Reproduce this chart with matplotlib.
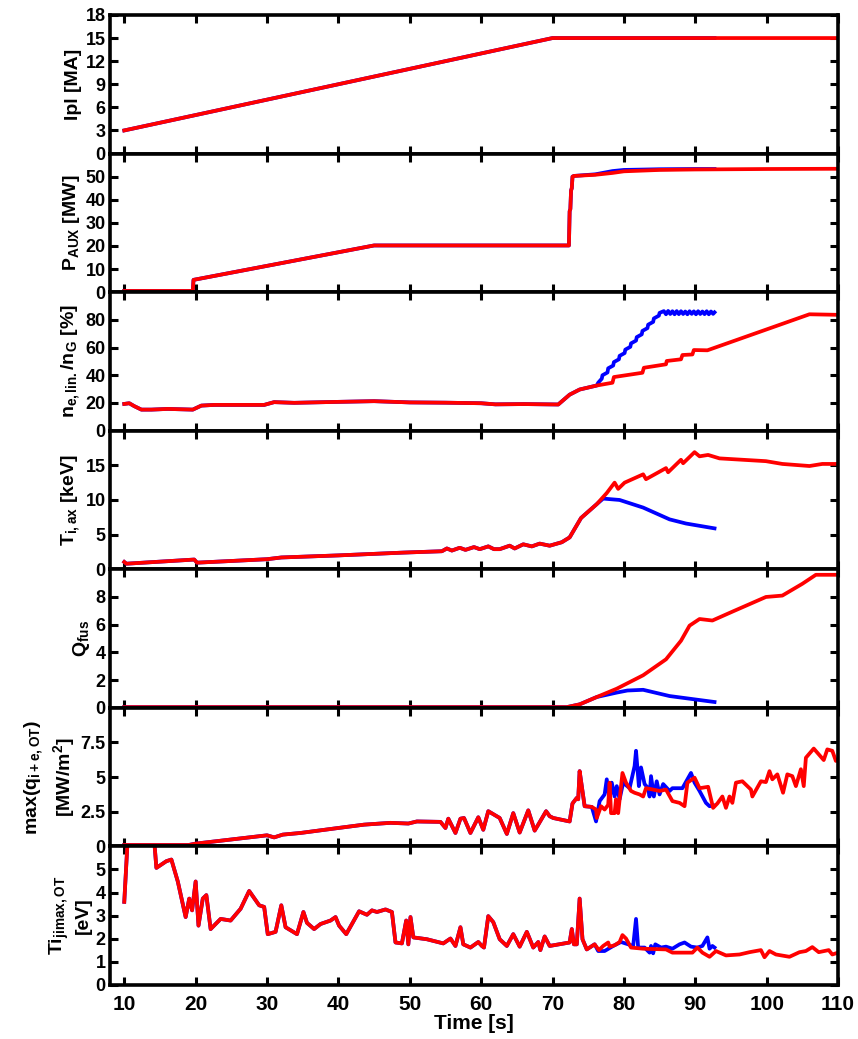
import numpy as np
import matplotlib
matplotlib.use("Agg")
import matplotlib.pyplot as plt

plt.rcParams["font.family"] = ["Liberation Sans", "DejaVu Sans"]
plt.rcParams["font.weight"] = "bold"
plt.rcParams["font.size"] = 13
plt.rcParams["mathtext.fontset"] = "custom"
plt.rcParams["mathtext.rm"] = "Liberation Sans:bold"
plt.rcParams["mathtext.it"] = "Liberation Sans:bold"
plt.rcParams["mathtext.bf"] = "Liberation Sans:bold"
plt.rcParams["mathtext.default"] = "rm"

# --- plasma current
ipl_t = [10, 70, 110]
ipl_red = [3, 15, 15]
ipl_blue_t = [10, 70, 92.7]
ipl_blue = [3, 15, 15]

# --- auxiliary heating
paux_t = [10, 19.6, 19.7, 45, 72.3, 72.4, 72.5, 72.6, 72.7, 72.8, 73, 76, 78.4, 80, 85, 90, 100, 110]
paux_red = [0.5, 0.5, 5.3, 20.2, 20.2, 35, 36, 44, 45, 50, 50.3, 50.8, 51.6, 52.3, 52.9, 53.1, 53.3, 53.4]
paux_blue_t = [76, 78.4, 80, 85, 90, 92.7]
paux_blue = [51.0, 52.4, 52.9, 53.2, 53.3, 53.3]

# --- Greenwald fraction
ne_t = [10, 10.7, 11.4, 12.4, 13.8, 16.1, 19.6, 20.8, 22.6, 29.6, 31, 33.8, 40, 45, 50, 55, 60, 62, 66,
        70.8, 72.4, 73.8, 76.2, 78.4, 78.6, 82.6, 82.8, 85.9, 86.0, 88.0, 88.2, 89.6, 89.8, 91.7, 106, 110]
ne_red = [19.3, 19.8, 17.7, 15.2, 15.2, 15.7, 15.2, 18.1, 18.6, 18.6, 20.6, 20.1, 20.8, 21.3, 20.4, 20.2, 19.8, 19.0, 19.2,
          18.9, 26, 29.7, 32.6, 34.6, 38.7, 41.8, 45.4, 47.9, 50.3, 51.5, 54.6, 55, 58.2, 58, 84, 83.6]
ne_blue_t = [76.4, 76.9, 77.0, 77.7, 77.8, 78.5, 78.6, 79.3, 79.4, 80.1, 80.2, 80.9, 81.0, 81.7, 81.8, 82.5,
             82.6, 83.3, 83.4, 84.1, 84.2, 84.9, 85.0, 85.6, 85.9, 86.2, 86.5, 86.8, 87.1, 87.4, 87.7, 88.0,
             88.3, 88.6, 88.9, 89.2, 89.5, 89.8, 90.1, 90.4, 90.7, 91.0, 91.3, 91.6, 91.9, 92.2, 92.5, 92.7]
ne_blue = [34.6, 37.5, 40.0, 42.0, 45.0, 47.0, 49.5, 51.5, 54.0, 56.0, 58.5, 60.5, 63.0, 65.0, 67.5, 69.5,
           72.0, 74.0, 76.5, 78.5, 81.0, 83.0, 85.0, 86.3, 84.0, 86.4, 84.2, 86.2, 84.0, 86.3, 84.1, 86.2,
           84.2, 86.0, 84.0, 86.2, 84.3, 86.1, 84.0, 86.2, 84.2, 86.0, 84.1, 86.2, 84.0, 86.0, 84.3, 85.4]

# --- axial ion temperature
ti_t = [10, 10.3, 19.8, 20.2, 30, 32, 40, 49, 54.5, 55.2, 55.9, 57, 57.8, 59, 59.8, 61, 61.8, 62.6, 64, 64.7,
        65.9, 67.1, 68.2, 69.6, 71.3, 72.4, 74, 76.2, 77.6, 78.7, 79.2, 80.1, 82.7, 83.1, 85.9, 86.2, 88, 88.3,
        89.9, 90.6, 91.8, 93.4, 99.9, 102.2, 106, 107.8, 110]
ti_red = [1.05, 0.8, 1.4, 0.95, 1.45, 1.7, 2.0, 2.4, 2.6, 3.0, 2.7, 3.1, 2.8, 3.2, 2.9, 3.3, 2.9, 2.9, 3.4, 3.0,
          3.6, 3.3, 3.7, 3.4, 3.9, 4.6, 7.4, 9.4, 11.0, 12.5, 11.6, 12.5, 13.7, 13.0, 14.6, 14.0, 15.8, 15.3,
          16.9, 16.3, 16.5, 16.0, 15.6, 15.2, 14.9, 15.2, 15.2]
ti_blue_t = [76.2, 77.1, 79.4, 82.7, 86.4, 88.7, 92.7]
ti_blue = [9.4, 10.2, 10.0, 8.9, 7.2, 6.6, 5.9]

# --- fusion gain
q_t = [10, 70, 72, 73.8, 76.2, 79, 82.7, 85.9, 88, 89.2, 90.6, 92.4, 95.2, 99.9, 102.2, 105, 106.9, 110]
q_red = [0.05, 0.05, 0.05, 0.25, 0.78, 1.38, 2.35, 3.5, 4.84, 5.93, 6.41, 6.3, 6.94, 8.0, 8.1, 8.95, 9.6, 9.6]
q_blue_t = [76.2, 79, 80.5, 82.7, 86.4, 92.7]
q_blue = [0.78, 1.1, 1.25, 1.3, 0.85, 0.42]

# --- peak target heat flux
hf_t = [10, 19, 20, 25, 30, 31, 32.2, 34.7, 40, 43.6, 47.3, 49.8, 51, 54.3, 55, 55.4, 56.4, 57.1, 57.6, 58.5,
        59.6, 60.3, 61, 62.6, 63.6, 64.5, 65.4, 66.6, 67.5, 68, 69.1, 69.6, 70.1, 72.4, 72.8, 73.4, 73.6, 73.8,
        74.1, 74.5, 75.5, 76.1, 76.2, 76.8, 77.3, 77.8, 78.0, 78.2, 78.7, 78.9, 79.2, 79.8, 80.3, 81, 81.5,
        82.2, 82.7, 83.1, 84.1, 85, 85.9, 86.8, 87.8, 88.5, 88.9, 89.9, 90.6, 91.8, 92.5, 93.1, 93.8, 94.3,
        94.8, 95.2, 95.7, 96.6, 97.8, 98, 99.2, 99.9, 100.4, 100.8, 101.5, 102.3, 102.9, 103.6, 104.1, 104.8,
        105.2, 105.5, 106.6, 108, 108.5, 109.2, 109.7, 110]
hf_red = [0.1, 0.1, 0.2, 0.5, 0.8, 0.65, 0.85, 0.97, 1.33, 1.57, 1.7, 1.65, 1.8, 1.77, 1.33, 2.0, 0.97, 2.0, 2.05, 0.97,
          2.1, 1.2, 2.54, 2.05, 0.9, 2.4, 1.0, 2.6, 1.14, 1.57, 2.54, 2.18, 2.05, 1.8, 3.1, 3.5, 3.4, 5.43,
          4.35, 2.9, 2.85, 2.66, 2.05, 2.9, 2.66, 3.0, 4.6, 2.4, 2.4, 3.4, 2.4, 5.3, 4.6, 4.0, 3.87,
          3.75, 3.6, 4.2, 4.1, 4.0, 4.1, 3.27, 3.14, 2.9, 4.6, 4.96, 4.2, 4.3, 2.78, 3.1, 3.6, 2.78,
          3.6, 3.14, 4.6, 4.7, 4.1, 3.6, 4.7, 4.64, 5.43, 4.84, 5.2, 3.87, 5.2, 5.07, 4.35, 5.57,
          4.35, 6.4, 7.06, 6.23, 7.0, 6.9, 6.17, 6.2]
hf_blue_t = [76.1, 76.6, 77.3, 77.6, 78, 78.3, 78.7, 79, 79.4, 79.9, 80.8, 81.5, 81.7, 82.1, 82.4, 82.9, 83.4,
             83.6, 83.8, 84.2, 84.6, 85, 85.5, 86.4, 86.8, 88.2, 89.4, 89.9, 90.6, 91.5, 92, 92.6]
hf_blue = [1.8, 3.27, 3.75, 4.84, 3.4, 4.6, 3.6, 4.35, 3.4, 4.6, 4.2, 5.8, 6.9, 4.35, 5.7, 4.5, 4.2,
           3.6, 5.07, 3.6, 4.7, 3.75, 4.5, 4.0, 4.2, 4.2, 5.3, 4.6, 4.0, 3.14, 2.9, 2.95]

# --- ion temperature at target
tt_t = [10, 10.6, 14, 14.5, 15.9, 16.6, 17.5, 18.6, 19.1, 19.5, 20, 20.4, 21, 21.5, 22.1, 23.5, 24.9, 26.3,
        27.5, 28.9, 29.6, 30.1, 31.2, 32, 32.6, 34.2, 35.1, 35.6, 36.6, 37.5, 38.9, 39.6, 40.1, 41.1, 42.9,
        44, 44.7, 45.4, 46.6, 47.5, 48, 48.9, 49.5, 49.8, 50.1, 50.5, 52.4, 54.7, 55.7, 56.4, 57.1, 57.5,
        58.5, 59.6, 60.1, 60.4, 61, 61.7, 62.6, 63.6, 64.5, 65.4, 66.4, 67.3, 68, 68.3, 68.9, 69.6, 72.4,
        72.7, 73, 73.4, 73.8, 74.2, 74.8, 75.9, 76.5, 77.1, 77.8, 78, 78.7, 79.4, 79.8, 80.3, 81, 82.7,
        85.9, 86.8, 89.6, 90.3, 91, 92, 92.9, 94.3, 96.2, 97.6, 99.2, 99.7, 100.4, 101.3, 103.2, 104.6,
        105.5, 106.4, 107.3, 108.7, 109.2, 110]
tt_red = [3.6, 7, 7, 5.07, 5.36, 5.43, 4.48, 2.94, 3.74, 3.23, 4.48, 2.57, 3.74, 3.89, 2.42, 2.86, 2.79, 3.3,
          4.07, 3.45, 3.38, 2.2, 2.3, 3.45, 2.5, 2.2, 3.16, 2.69, 2.42, 2.64, 2.79, 2.94, 2.57, 2.2, 3.19,
          3.04, 3.23, 3.16, 3.27, 3.16, 1.84, 1.8, 2.79, 1.76, 2.94, 2.06, 1.98, 1.8, 2.01, 1.69, 2.5, 1.76,
          1.62, 1.86, 1.69, 1.62, 2.98, 2.72, 1.98, 1.69, 2.2, 1.66, 2.3, 1.62, 1.86, 1.51, 2.1, 1.69, 1.84,
          2.42, 1.76, 1.76, 3.74, 1.98, 1.54, 1.76, 1.51, 1.69, 1.84, 1.66, 1.72, 1.86, 2.16, 2.01, 1.62, 1.57,
          1.54, 1.4, 1.4, 1.62, 1.4, 1.22, 1.47, 1.28, 1.32, 1.42, 1.51, 1.2, 1.47, 1.32, 1.22, 1.42,
          1.47, 1.64, 1.42, 1.51, 1.32, 1.4]
tt_blue_t = [76.4, 77.3, 78.5, 79.6, 80.6, 81.3, 81.7, 82, 82.9, 83.6, 83.8, 84.1, 84.4, 85.2, 85.9, 86.8,
             87.8, 88.5, 89.4, 90.3, 91, 91.7, 92, 92.4, 92.7]
tt_blue = [1.47, 1.47, 1.69, 1.86, 1.76, 1.69, 2.86, 1.62, 1.62, 1.4, 1.69, 1.37, 1.76, 1.62, 1.66, 1.57,
           1.76, 1.84, 1.66, 1.62, 1.69, 2.06, 1.57, 1.69, 1.62]

ylabels = ["Ipl [MA]", "P$_{AUX}$ [MW]", "n$_{e,lin.}$/n$_G$ [%]", "T$_{i,ax}$ [keV]",
           "Q$_{fus}$", "max(q$_{i+e,OT}$)\n[MW/m$^2$]", "Ti$_{jimax,OT}$\n[eV]"]
ylims = [18, 60, 100, 20, 10, 10, 6]
yticks = [[0, 3, 6, 9, 12, 15, 18], [0, 10, 20, 30, 40, 50], [0, 20, 40, 60, 80], [0, 5, 10, 15],
          [0, 2, 4, 6, 8], [0, 2.5, 5, 7.5], [0, 1, 2, 3, 4, 5]]
yticklabels = [["0", "3", "6", "9", "12", "15", "18"], ["0", "10", "20", "30", "40", "50"],
               ["0", "20", "40", "60", "80"], ["0", "5", "10", "15"], ["0", "2", "4", "6", "8"],
               ["0", "2.5", "5", "7.5"], ["0", "1", "2", "3", "4", "5"]]
xticks = [10, 20, 30, 40, 50, 60, 70, 80, 90, 100, 110]


def blue_series(t_red, v_red, t_tail, v_tail):
    # the second run follows the first until it branches off
    t_red = np.asarray(t_red, float)
    v_red = np.asarray(v_red, float)
    keep = t_red < t_tail[0]
    return np.r_[t_red[keep], t_tail], np.r_[v_red[keep], v_tail]


series = [
    (ipl_t, ipl_red, (ipl_blue_t, ipl_blue)),
    (paux_t, paux_red, blue_series(paux_t, paux_red, paux_blue_t, paux_blue)),
    (ne_t, ne_red, blue_series(ne_t, ne_red, ne_blue_t, ne_blue)),
    (ti_t, ti_red, blue_series(ti_t, ti_red, ti_blue_t, ti_blue)),
    (q_t, q_red, blue_series(q_t, q_red, q_blue_t, q_blue)),
    (hf_t, hf_red, blue_series(hf_t, hf_red, hf_blue_t, hf_blue)),
    (tt_t, tt_red, blue_series(tt_t, tt_red, tt_blue_t, tt_blue)),
]

fig, axes = plt.subplots(7, 1, figsize=(8.58, 10.39), dpi=100, sharex=True)
fig.subplots_adjust(left=0.1282, right=0.9767, top=0.9856, bottom=0.052, hspace=0)

for i, ax in enumerate(axes):
    t_r, v_r, (t_b, v_b) = series[i]
    ax.plot(t_b, v_b, color="#0000ff", lw=2.7)
    ax.plot(t_r, v_r, color="#ff0000", lw=2.7)
    ax.set_xlim(8, 110)
    ax.set_ylim(0, ylims[i])
    ax.set_yticks(yticks[i])
    ax.set_yticklabels(yticklabels[i])
    ax.set_xticks(xticks)
    ax.set_ylabel(ylabels[i], fontweight="bold", fontsize=14, labelpad=3, linespacing=1.3)
    ax.tick_params(direction="in", top=True, right=True, length=6, width=2.2)
    ax.tick_params(axis="y", labelsize=13, pad=3)
    ax.tick_params(axis="x", labelsize=15, pad=7)
    for s in ax.spines.values():
        s.set_linewidth(2.6)

axes[-1].set_xlabel("Time [s]", fontweight="bold", fontsize=15, labelpad=0)

fig.savefig("out.png", dpi=100)
